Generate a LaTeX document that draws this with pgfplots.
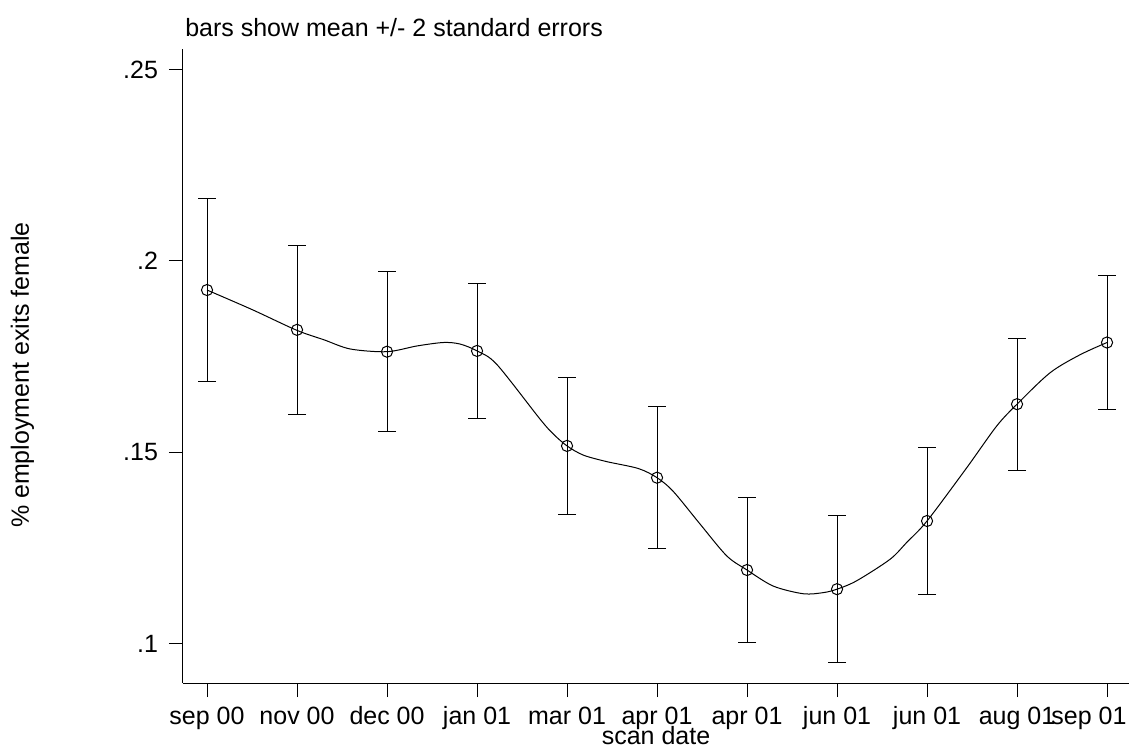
\documentclass[border=0pt]{standalone}
\usepackage{fontspec}
\setmainfont{Liberation Sans}
\usepackage{pgfplots}
\pgfplotsset{compat=1.18}
\usepackage{pgfplotstable}

% mean and 2 standard errors, one row for each scan date
\pgfplotstableread{
x y se2
0  0.1924 0.0239
1  0.1820 0.0220
2  0.1763 0.0209
3  0.1765 0.0176
4  0.1517 0.0178
5  0.1434 0.0186
6  0.1193 0.0189
7  0.1143 0.0192
8  0.1321 0.0193
9  0.1626 0.0172
10 0.1787 0.0174
}\means

\newcommand{\lbl}{\fontsize{12.5}{15}\selectfont}

\begin{document}
\begin{tikzpicture}
\path[use as bounding box] (-91.5pt,-33.5pt) rectangle (476pt,341.5pt);
\begin{axis}[
  scale only axis, width=473pt, height=316.75pt,
  xmin=-0.267, xmax=10.244, ymin=0.0898, ymax=0.2552,
  axis lines*=left, axis line style={-, line width=0.5pt},
  tick align=outside, major tick length=7pt,
  tick style={black, line width=0.5pt},
  xtick={0,...,10},
  % the last label is pushed left so it stays inside the graph
  xticklabels={sep 00,nov 00,dec 00,jan 01,mar 01,apr 01,apr 01,jun 01,jun 01,aug 01,
    \makebox[19.5pt][r]{sep 01}},
  ytick={0.1,0.15,0.2,0.25}, yticklabels={.1,.15,.2,.25},
  tick label style={font=\lbl},
  xticklabel style={anchor=base, yshift=-13.5pt},
  yticklabel style={anchor=east, xshift=-2pt},
  xlabel={scan date}, ylabel={\% employment exits female},
  every axis x label/.style={at={(axis description cs:0.5,-0.0963)}, anchor=base, font=\lbl},
  every axis y label/.style={at={(axis description cs:-0.1628,0.486)}, rotate=90, anchor=base, font=\lbl},
  title={bars show mean +/- 2 standard errors},
  every axis title/.style={at={(axis description cs:0.002,1.0213)}, anchor=base west, inner sep=0pt, font=\lbl},
]
% fitted spline
\addplot[black, line width=0.5pt, smooth, tension=0.5] coordinates {
  (0,0.1924) (0.5,0.1873) (0.996,0.1819) (1.3,0.1794) (1.593,0.1770) (2,0.1763)
  (2.333,0.1778) (2.626,0.1787) (2.811,0.1783) (3,0.1765) (3.219,0.1730)
  (3.7,0.1587) (3.848,0.1548) (4,0.1517) (4.181,0.1493) (4.441,0.1476)
  (4.792,0.1458) (5,0.1434) (5.181,0.1398) (5.478,0.1313) (5.774,0.1230)
  (6,0.1193) (6.292,0.1151) (6.626,0.1131) (6.848,0.1134) (7,0.1143)
  (7.219,0.1165) (7.589,0.1221) (7.774,0.1265) (8,0.1321) (8.441,0.1460)
  (8.774,0.1569) (9,0.1626) (9.367,0.1708) (9.7,0.1755) (10,0.1787)
};
\addplot[black, only marks, mark=o, mark size=2.8pt, line width=0.5pt,
  error bars/.cd, y dir=both, y explicit,
  error bar style={black, line width=0.5pt},
  error mark options={rotate=90, mark size=4.5pt, line width=0.5pt}]
  table[x=x, y=y, y error=se2] {\means};
\end{axis}
\end{tikzpicture}
\end{document}
